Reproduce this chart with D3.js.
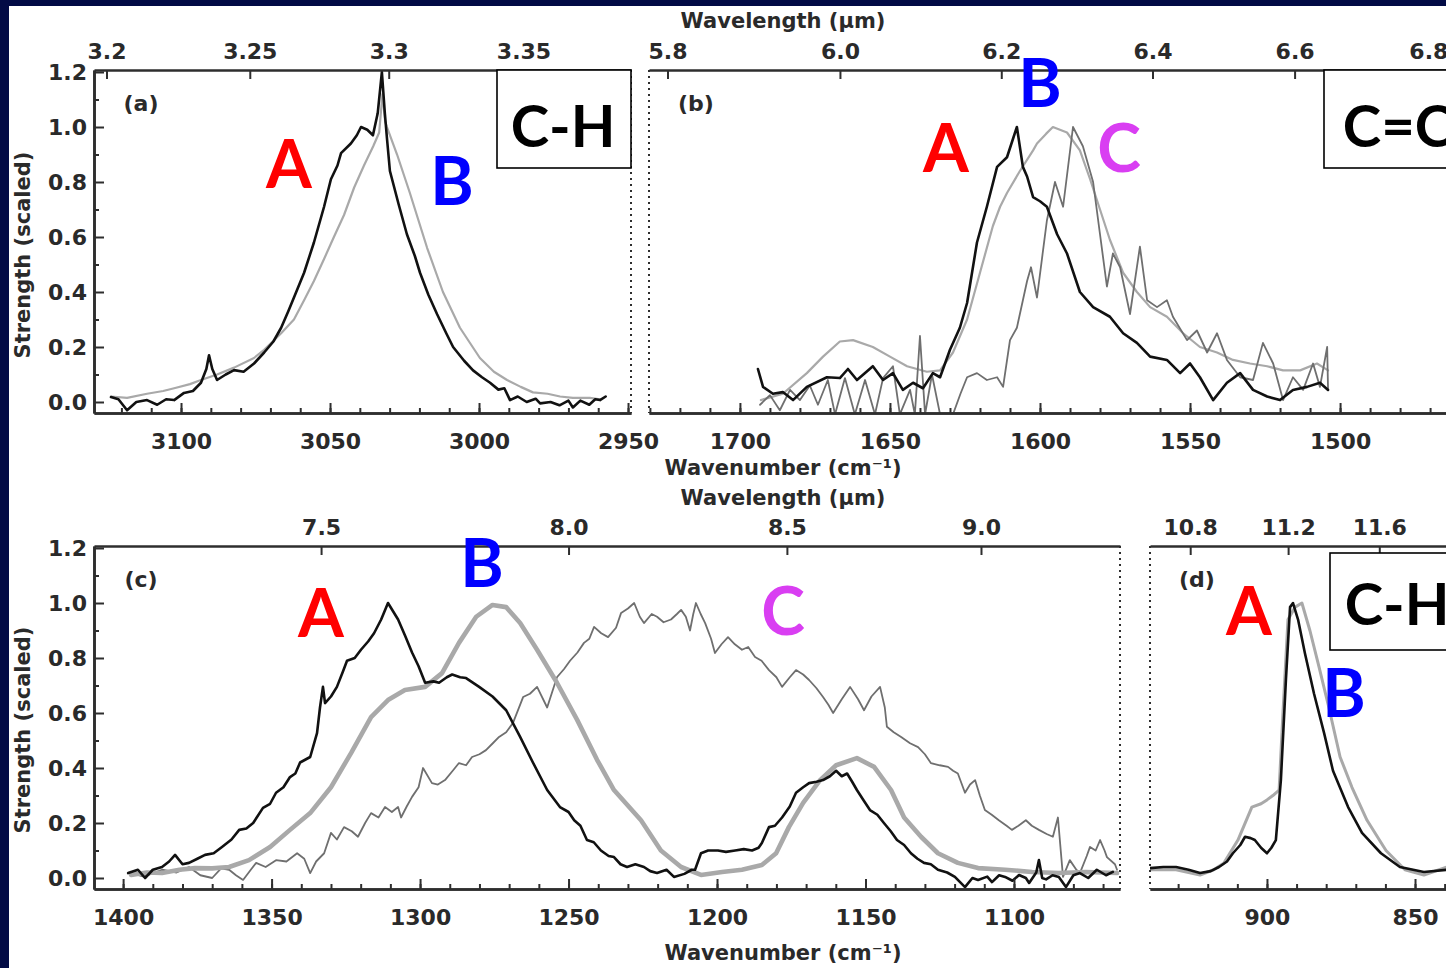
<!DOCTYPE html>
<html>
<head>
<meta charset="utf-8">
<script src="https://cdn.jsdelivr.net/npm/d3@7"></script>
<style>
  html, body { margin: 0; padding: 0; background: #020b45; overflow: hidden; }
  svg { display: block; }
</style>
</head>
<body>
<svg id="chart" width="1446" height="968"></svg>
<script>
// ---------------- DATA (wavenumber cm^-1, scaled strength) ----------------
// Panel (a) 3.3 um C-H stretch
const a_A = [[3123.5,0.018],[3121,0.01],[3118.1,-0.03],[3115,0.0],[3111.4,0.007],[3108,-0.01],[3105,0.01],[3102.3,0.007],[3099,0.033],[3096,0.04],[3093.3,0.07],[3091.5,0.12],[3090.6,0.17],[3089.5,0.12],[3087.9,0.08],[3085,0.1],[3082.2,0.116],[3079,0.11],[3075.5,0.14],[3072.1,0.18],[3069,0.22],[3066.4,0.27],[3064,0.33],[3062.1,0.38],[3058.7,0.47],[3055.4,0.58],[3052,0.71],[3049.7,0.81],[3047.5,0.86],[3046.3,0.905],[3043,0.94],[3041,0.97],[3039.6,1.0],[3037.5,0.99],[3035.6,0.97],[3034,1.05],[3032.6,1.2],[3031.6,1.05],[3030.9,0.96],[3029.9,0.84],[3027,0.72],[3024.2,0.61],[3021.5,0.53],[3019.8,0.47],[3017,0.39],[3014.1,0.32],[3011,0.25],[3008.7,0.2],[3005,0.15],[3002,0.115],[2999,0.09],[2996.3,0.07],[2993.5,0.045],[2991.5,0.05],[2989.6,0.007],[2987,0.02],[2984,0.0],[2981,0.012],[2979.5,-0.005],[2976,0.0],[2973,-0.012],[2970,0.005],[2968.5,-0.02],[2966,0.005],[2963,-0.01],[2961,0.01],[2959.4,0.007],[2957.5,0.02]];
const a_B = [[3123.5,0.02],[3118.1,0.015],[3111.4,0.03],[3106,0.04],[3102.3,0.05],[3097,0.065],[3093.3,0.08],[3087.9,0.1],[3082.2,0.125],[3075.5,0.16],[3072.1,0.19],[3066.4,0.25],[3062.1,0.3],[3058.7,0.37],[3055.4,0.44],[3052,0.52],[3048.7,0.6],[3045.3,0.68],[3041.9,0.78],[3038.6,0.86],[3035.5,0.93],[3033.5,0.98],[3032.4,1.12],[3031.5,1.02],[3030.9,1.0],[3027.5,0.9],[3023.2,0.76],[3017.4,0.56],[3012.1,0.4],[3006.4,0.27],[2999.7,0.16],[2995,0.11],[2990.6,0.08],[2986,0.055],[2981.9,0.035],[2977,0.03],[2972.8,0.02],[2968.5,0.015],[2962.8,0.015],[2959.4,0.01]];

// Panel (b) 6.2 um C=C stretch
const b_A = [[1694,0.12],[1692.3,0.055],[1689,0.03],[1685.7,0.036],[1682.3,0.007],[1677.7,0.055],[1671,0.09],[1666.7,0.087],[1664,0.12],[1661,0.08],[1655.7,0.13],[1652.3,0.08],[1649,0.105],[1645.7,0.044],[1642.3,0.07],[1639,0.05],[1635.7,0.105],[1633.3,0.09],[1630,0.19],[1626.7,0.27],[1624.3,0.36],[1621,0.58],[1617.7,0.71],[1614.3,0.855],[1611,0.89],[1607.7,1.0],[1605.7,0.855],[1604.3,0.82],[1602.3,0.745],[1600,0.73],[1597.7,0.71],[1594.3,0.61],[1591,0.54],[1586.7,0.4],[1582.3,0.345],[1576.7,0.31],[1572.3,0.25],[1567.7,0.215],[1563.3,0.165],[1557.7,0.153],[1553.3,0.105],[1550,0.14],[1546.7,0.09],[1542.3,0.007],[1537.7,0.07],[1533.3,0.105],[1529,0.044],[1524.3,0.02],[1520,0.007],[1515.7,0.044],[1511,0.055],[1506.7,0.07],[1504,0.044]];
const b_B = [[1693,0.007],[1685.7,0.03],[1677.7,0.105],[1672.3,0.165],[1666.7,0.22],[1662.3,0.225],[1655.7,0.2],[1650,0.165],[1644.3,0.13],[1637.7,0.11],[1633.3,0.115],[1629,0.18],[1624.3,0.3],[1620,0.47],[1615.7,0.64],[1613.3,0.71],[1611,0.76],[1606.7,0.84],[1602.3,0.915],[1601,0.94],[1598,0.975],[1595.7,1.0],[1591,0.98],[1586.7,0.915],[1583.3,0.81],[1580,0.7],[1576.7,0.59],[1572.3,0.47],[1567.7,0.4],[1563.3,0.345],[1557.7,0.31],[1552.3,0.25],[1546.7,0.2],[1541,0.18],[1535.7,0.153],[1530,0.14],[1524.3,0.13],[1519,0.115],[1513.3,0.115],[1507.7,0.14],[1504,0.115]];
const b_C = [[1693.3,-0.01],[1690,0.025],[1686.7,-0.03],[1683.3,0.044],[1680,0.007],[1676.7,0.06],[1674,-0.01],[1670.7,0.08],[1668.3,-0.045],[1665,0.087],[1661.7,-0.045],[1658.3,0.08],[1655,-0.045],[1652.3,0.087],[1649,0.13],[1646.7,-0.045],[1643.3,0.044],[1641.7,-0.045],[1640,0.24],[1638.3,-0.045],[1636,0.1],[1633.3,-0.045],[1629,-0.045],[1626.5,0.03],[1624.3,0.09],[1621,0.105],[1617.7,0.08],[1614.3,0.09],[1612.3,0.055],[1610,0.225],[1607.7,0.27],[1605.7,0.37],[1604.3,0.44],[1603,0.49],[1601,0.38],[1597.7,0.66],[1595,0.8],[1592.3,0.71],[1589,1.0],[1585.7,0.93],[1582.3,0.8],[1580,0.61],[1577.7,0.42],[1575.7,0.54],[1573.3,0.49],[1570,0.32],[1566.7,0.565],[1564.3,0.37],[1561,0.345],[1557.7,0.37],[1555.7,0.31],[1551,0.225],[1547.7,0.26],[1544.3,0.18],[1541,0.25],[1537.7,0.153],[1533.3,0.09],[1529,0.08],[1525.7,0.215],[1522.3,0.14],[1519,0.007],[1515.7,0.09],[1512.3,0.044],[1509,0.14],[1506.7,0.055],[1504.3,0.2],[1504,0.044]];

// Panel (c) 7.7 um C-C and 8.6 um C-H
const c_A = [[1398.3,0.018],[1395,0.03],[1392.6,0.0],[1390,0.03],[1386.9,0.04],[1384.5,0.06],[1382.5,0.084],[1380,0.05],[1377.8,0.055],[1375,0.07],[1372.4,0.084],[1369.5,0.09],[1366.7,0.113],[1363.5,0.14],[1360.9,0.175],[1358.5,0.18],[1356.2,0.2],[1352.9,0.255],[1350.5,0.27],[1348.5,0.31],[1346,0.33],[1343.8,0.367],[1342,0.38],[1340.4,0.42],[1337,0.44],[1334.7,0.527],[1333.7,0.62],[1332.7,0.695],[1332,0.636],[1330,0.66],[1328,0.695],[1326,0.75],[1324.6,0.79],[1322,0.8],[1319.9,0.83],[1317.5,0.86],[1315.5,0.89],[1313.1,0.94],[1310.8,1.0],[1307.4,0.94],[1305,0.88],[1302.7,0.82],[1300.5,0.77],[1298.3,0.71],[1295.5,0.715],[1293.6,0.71],[1291,0.73],[1289.2,0.74],[1286.5,0.73],[1284.5,0.727],[1280.1,0.695],[1275.6,0.66],[1271,0.61],[1266.3,0.513],[1262,0.42],[1257.2,0.32],[1252.9,0.258],[1250,0.24],[1248.1,0.21],[1246,0.19],[1243.8,0.138],[1241.5,0.13],[1239.1,0.1],[1236.5,0.08],[1234.7,0.076],[1232.5,0.05],[1230.3,0.04],[1227.5,0.05],[1224.6,0.04],[1222.5,0.025],[1220.2,0.018],[1217,0.03],[1214.5,0.004],[1211,0.015],[1208.5,0.03],[1207.4,0.03],[1205.4,0.09],[1203,0.1],[1199.7,0.1],[1197,0.095],[1193.9,0.1],[1191,0.105],[1188.2,0.1],[1186,0.11],[1184.9,0.127],[1182.5,0.185],[1180.5,0.19],[1178.1,0.22],[1175.5,0.26],[1173.4,0.31],[1171,0.33],[1169,0.345],[1166.5,0.35],[1164.3,0.356],[1162,0.37],[1159.9,0.39],[1158,0.37],[1156.2,0.38],[1154.5,0.35],[1152.9,0.32],[1150.5,0.28],[1148.5,0.247],[1146,0.23],[1143.8,0.2],[1141.5,0.17],[1139.4,0.138],[1137,0.12],[1134.7,0.09],[1132.5,0.07],[1130.3,0.055],[1128,0.05],[1125.6,0.03],[1122.5,0.02],[1119.9,0.004],[1116.5,-0.033],[1114,0.0],[1112.1,-0.007],[1109,0.005],[1107.4,-0.015],[1105,0.01],[1103,0.004],[1100.5,-0.01],[1098.3,0.011],[1096,0.0],[1094.9,-0.018],[1092.5,0.02],[1091.6,0.065],[1090.5,0.0],[1089.2,-0.005],[1087,0.01],[1084.9,0.004],[1082.5,-0.033],[1080,0.01],[1077.8,0.018],[1075,0.0],[1072.1,0.03],[1069,0.01],[1066.7,0.022]];
const c_B = [[1397.3,0.011],[1392,0.02],[1386.9,0.018],[1381,0.03],[1375.8,0.036],[1370,0.035],[1364.3,0.04],[1357.6,0.065],[1350.5,0.113],[1343.8,0.175],[1337,0.236],[1330,0.33],[1323.2,0.455],[1316.5,0.585],[1310.8,0.647],[1305.1,0.684],[1298.3,0.695],[1292.6,0.745],[1286.9,0.855],[1281.1,0.95],[1275.6,0.993],[1271,0.985],[1266.3,0.927],[1260.6,0.83],[1253.9,0.71],[1247.1,0.575],[1240.4,0.43],[1234.7,0.32],[1225.6,0.21],[1218.9,0.1],[1212.1,0.04],[1205.4,0.011],[1198.3,0.022],[1191.6,0.03],[1184.9,0.047],[1180.1,0.09],[1175.8,0.185],[1171,0.273],[1165.3,0.356],[1159.9,0.41],[1152.9,0.436],[1147.1,0.404],[1141.4,0.32],[1137,0.22],[1131.3,0.15],[1125.6,0.09],[1118.9,0.055],[1112.1,0.036],[1103,0.03],[1093.9,0.022],[1084.9,0.018],[1075.8,0.022],[1065.3,0.018]];
const c_C = [[1397.3,0.018],[1393,0.005],[1386.9,0.03],[1382,0.02],[1377.8,0.04],[1374,0.01],[1370,0.0],[1367,0.035],[1364.3,0.03],[1362,0.01],[1359.6,-0.007],[1357,0.03],[1355.2,0.055],[1352,0.04],[1348.5,0.065],[1345,0.06],[1341.4,0.09],[1339,0.07],[1337,0.018],[1335,0.06],[1332.3,0.09],[1330,0.164],[1328,0.14],[1325.6,0.185],[1323,0.17],[1320.9,0.15],[1318.5,0.2],[1316.5,0.236],[1314,0.22],[1311.8,0.258],[1309.5,0.24],[1307.4,0.258],[1306.4,0.22],[1304.5,0.26],[1302.7,0.295],[1300.5,0.33],[1299,0.4],[1296,0.345],[1294,0.34],[1291.6,0.356],[1289,0.39],[1286.9,0.418],[1284.5,0.41],[1282.5,0.44],[1280,0.45],[1277.8,0.465],[1275.5,0.49],[1273.4,0.513],[1271,0.53],[1268.7,0.564],[1265.3,0.658],[1263,0.67],[1260.6,0.695],[1257.2,0.62],[1253.9,0.73],[1251.5,0.76],[1249.5,0.79],[1247,0.82],[1244.8,0.855],[1243,0.87],[1241.4,0.913],[1239,0.89],[1236.7,0.876],[1234,0.91],[1232.3,0.964],[1230,0.98],[1227.9,1.0],[1226,0.95],[1224.6,0.927],[1222,0.96],[1220.2,0.95],[1218,0.93],[1215.5,0.94],[1213.5,0.96],[1212.1,0.975],[1210.5,0.95],[1209.1,0.9],[1208,0.96],[1207.1,1.0],[1205.5,0.96],[1204,0.927],[1202,0.87],[1200.7,0.818],[1198.5,0.85],[1196.3,0.876],[1194,0.85],[1191.6,0.83],[1189.5,0.84],[1187.2,0.804],[1185,0.79],[1182.5,0.756],[1180,0.73],[1178.1,0.695],[1175.5,0.73],[1173.4,0.756],[1171,0.74],[1169,0.72],[1166.5,0.69],[1164.3,0.658],[1162.5,0.63],[1160.9,0.6],[1158,0.65],[1155.2,0.695],[1152.5,0.65],[1150.5,0.61],[1148,0.66],[1145.1,0.695],[1143.5,0.62],[1142.8,0.55],[1140.5,0.53],[1138,0.513],[1135,0.49],[1132.3,0.476],[1130,0.45],[1128,0.418],[1125,0.41],[1122.2,0.404],[1120.5,0.39],[1118.9,0.38],[1116.5,0.31],[1114.8,0.34],[1113.1,0.356],[1111.5,0.3],[1109.8,0.247],[1107.5,0.23],[1105.1,0.21],[1102.5,0.19],[1100.7,0.175],[1098.5,0.19],[1096,0.21],[1094,0.19],[1091.6,0.175],[1089,0.16],[1086.9,0.15],[1085.2,0.22],[1083.5,0.004],[1081.2,0.065],[1079,0.03],[1077.8,0.018],[1075.5,0.08],[1074.4,0.113],[1072.5,0.1],[1071,0.138],[1069.5,0.1],[1068.7,0.076],[1066,0.05],[1065.3,0.03]];

// Panel (d) 11.2 um C-H out-of-plane
const d_A = [[939.5,0.036],[935,0.04],[930.7,0.04],[926.5,0.03],[922.6,0.018],[919,0.025],[916.2,0.04],[913.5,0.06],[911.5,0.09],[909,0.12],[907.4,0.15],[905.5,0.145],[904.1,0.138],[902,0.11],[900,0.09],[898.5,0.11],[897,0.138],[895.3,0.356],[893.6,0.72],[892.2,0.985],[891.2,1.0],[889.5,0.94],[887.2,0.818],[884.1,0.67],[880.7,0.527],[877.7,0.39],[872.6,0.258],[867.9,0.164],[861.5,0.09],[855.1,0.04],[847,0.022],[839.2,0.03]];
const d_B = [[939.5,0.03],[930.7,0.03],[922.6,0.011],[918,0.03],[914.5,0.055],[909.8,0.138],[905.1,0.258],[902,0.27],[900,0.284],[898,0.3],[895.9,0.32],[894.6,0.6],[892.9,0.94],[890.5,0.985],[888.2,1.0],[885.5,0.9],[882.4,0.767],[879.1,0.62],[875.3,0.44],[871.3,0.33],[866.2,0.21],[859.8,0.1],[853.4,0.03],[847,0.011],[839.2,0.04]];

// Tick values
const yTicksMajor = [0, 0.2, 0.4, 0.6, 0.8, 1.0, 1.2];
const yTicksMinor = [0.1, 0.3, 0.5, 0.7, 0.9, 1.1];
const a_wnTicks = [3100, 3050, 3000, 2950];
const b_wnTicks = [1700, 1650, 1600, 1550, 1500];
const c_wnTicks = [1400, 1350, 1300, 1250, 1200, 1150, 1100];
const d_wnTicks = [900, 850];
const a_wlTicks = ["3.2", "3.25", "3.3", "3.35"];
const b_wlTicks = ["5.8", "6.0", "6.2", "6.4", "6.6", "6.8"];
const c_wlTicks = ["7.5", "8.0", "8.5", "9.0"];
const d_wlTicks = ["10.8", "11.2", "11.6"];

// ---------------- LAYOUT / STYLE ----------------
const svg = d3.select("#chart");
const FONT = "DejaVu Sans";
const AX = "#2e2e2e";
const COL = { A: "#111111", B: "#a9a9a9", C: "#6f6f6f" };

svg.append("rect").attr("x", 0).attr("y", 0).attr("width", 1446).attr("height", 968).attr("fill", "#020b45");
svg.append("rect").attr("x", 9).attr("y", 6).attr("width", 1446).attr("height", 968).attr("fill", "#ffffff");

const panels = [
  { id: "a", left: 94, right: 631, top: 70, bottom: 413, wn: [3129.2, 2949.0], wnTicks: a_wnTicks, wlTicks: a_wlTicks,
    leftSolid: true, rightSolid: false, series: [["B", a_B, 2.2], ["A", a_A, 2.6]] },
  { id: "b", left: 649, right: 1500, top: 70, bottom: 413, wn: [1730.3, 1446.7], wnTicks: b_wnTicks, wlTicks: b_wlTicks,
    leftSolid: false, rightSolid: true, series: [["B", b_B, 2.2], ["C", b_C, 1.8], ["A", b_A, 2.6]] },
  { id: "c", left: 94, right: 1120, top: 546, bottom: 889, wn: [1409.8, 1064.3], wnTicks: c_wnTicks, wlTicks: c_wlTicks,
    leftSolid: true, rightSolid: false, series: [["C", c_C, 1.8], ["B", c_B, 4.6], ["A", c_A, 2.6]] },
  { id: "d", left: 1150, right: 1500, top: 546, bottom: 889, wn: [939.5, 821.3], wnTicks: d_wnTicks, wlTicks: d_wlTicks,
    leftSolid: false, rightSolid: true, series: [["B", d_B, 3.0], ["A", d_A, 2.6]] }
];

function minorTicks(dom, step) {
  const lo = Math.ceil(Math.min(...dom) / step) * step;
  const hi = Math.max(...dom);
  const out = [];
  for (let v = lo; v <= hi + 1e-9; v += step) out.push(+v.toFixed(4));
  return out;
}

function styleAxis(g) {
  g.selectAll("path.domain").attr("stroke", AX).attr("stroke-width", 2.6);
  g.selectAll(".tick line").attr("stroke", AX).attr("stroke-width", 2);
  g.selectAll(".tick text").attr("fill", "#2a2a2a").attr("font-family", FONT)
    .attr("font-weight", "bold").attr("font-size", 22);
}

panels.forEach(p => {
  const x = d3.scaleLinear().domain(p.wn).range([p.left, p.right]);
  const y = d3.scaleLinear().domain([-0.04, 1.2073]).range([p.bottom, p.top]);
  const g = svg.append("g");

  const clipId = "clip-" + p.id;
  svg.append("clipPath").attr("id", clipId).append("rect")
    .attr("x", p.left).attr("y", p.top).attr("width", p.right - p.left).attr("height", p.bottom - p.top);

  const line = d3.line().x(d => x(d[0])).y(d => y(d[1]));
  const sg = g.append("g").attr("clip-path", `url(#${clipId})`);
  p.series.forEach(([key, data, w]) => {
    sg.append("path").datum(data).attr("d", line)
      .attr("fill", "none").attr("stroke", COL[key]).attr("stroke-width", w)
      .attr("stroke-linejoin", "round").attr("stroke-linecap", "round");
  });

  const bMinor = g.append("g").attr("transform", `translate(0,${p.bottom})`)
    .call(d3.axisBottom(x).tickValues(minorTicks(p.wn, 10)).tickSize(-5).tickSizeOuter(0).tickFormat(""));
  styleAxis(bMinor);
  const bMajor = g.append("g").attr("transform", `translate(0,${p.bottom})`)
    .call(d3.axisBottom(x).tickValues(p.wnTicks).tickSize(-10).tickSizeOuter(0).tickPadding(20).tickFormat(d3.format("d")));
  styleAxis(bMajor);

  const wlVals = p.wlTicks.map(s => 10000 / (+s));
  const tMajor = g.append("g").attr("transform", `translate(0,${p.top})`)
    .call(d3.axisTop(x).tickValues(wlVals).tickSize(-9).tickSizeOuter(0).tickPadding(11)
      .tickFormat((d, i) => p.wlTicks[i]));
  styleAxis(tMajor);

  if (p.leftSolid) {
    const lMinor = g.append("g").attr("transform", `translate(${p.left},0)`)
      .call(d3.axisLeft(y).tickValues(yTicksMinor).tickSize(-5).tickSizeOuter(0).tickFormat(""));
    styleAxis(lMinor);
    const lMajor = g.append("g").attr("transform", `translate(${p.left},0)`)
      .call(d3.axisLeft(y).tickValues(yTicksMajor).tickSize(-10).tickSizeOuter(0).tickPadding(7).tickFormat(d3.format(".1f")));
    styleAxis(lMajor);
  } else {
    g.append("line").attr("x1", p.left).attr("x2", p.left).attr("y1", p.top).attr("y2", p.bottom)
      .attr("stroke", AX).attr("stroke-width", 2).attr("stroke-dasharray", "2,4");
  }
  if (!p.rightSolid) {
    g.append("line").attr("x1", p.right).attr("x2", p.right).attr("y1", p.top).attr("y2", p.bottom)
      .attr("stroke", AX).attr("stroke-width", 2).attr("stroke-dasharray", "2,4");
  }

  g.append("text").attr("x", p.left + 47).attr("y", p.top + 41)
    .attr("text-anchor", "middle").attr("font-family", FONT).attr("font-size", 22)
    .attr("font-weight", "bold").attr("fill", "#2a2a2a").text(`(${p.id})`);
});

// ---------------- AXIS TITLES ----------------
function title(txt, x, y, rot) {
  const t = svg.append("text").attr("text-anchor", "middle").attr("font-family", FONT)
    .attr("font-weight", "bold").attr("font-size", 21).attr("fill", "#2a2a2a").text(txt);
  if (rot) t.attr("transform", `translate(${x},${y}) rotate(-90)`);
  else t.attr("x", x).attr("y", y);
}
title("Wavelength (\u03bcm)", 783, 28);
title("Wavenumber (cm\u207b\u00b9)", 783, 475);
title("Wavelength (\u03bcm)", 783, 505);
title("Wavenumber (cm\u207b\u00b9)", 783, 960);
title("Strength (scaled)", 30, 255, true);
title("Strength (scaled)", 30, 730, true);

// ---------------- ANNOTATIONS ----------------
const LAB = "Lato";
const annColors = { A: "#ff0000", B: "#0000ff", C: "#d93ef2" };
const annotations = [
  ["A", 289, 188], ["B", 452, 205],
  ["A", 946, 172], ["B", 1040, 107], ["C", 1119, 172],
  ["A", 321, 637], ["B", 482, 587], ["C", 783, 635],
  ["A", 1249, 635], ["B", 1344, 717]
];
annotations.forEach(([k, x, y]) => {
  svg.append("text").attr("x", x).attr("y", y).attr("text-anchor", "middle")
    .attr("font-family", LAB).attr("font-weight", "bold").attr("font-size", 66)
    .attr("fill", annColors[k]).text(k);
});

const boxes = [
  { x: 497, y: 70, w: 134, h: 98, txt: "C-H", tx: 563, ty: 147 },
  { x: 1324, y: 70, w: 140, h: 98, txt: "C=C", tx: 1398, ty: 147 },
  { x: 1330, y: 553, w: 130, h: 97, txt: "C-H", tx: 1397, ty: 625 }
];
boxes.forEach(b => {
  svg.append("rect").attr("x", b.x).attr("y", b.y).attr("width", b.w).attr("height", b.h)
    .attr("fill", "#ffffff").attr("stroke", "#000").attr("stroke-width", 1.6);
  svg.append("text").attr("x", b.tx).attr("y", b.ty).attr("text-anchor", "middle")
    .attr("font-family", LAB).attr("font-weight", "bold").attr("font-size", 58)
    .attr("fill", "#000").text(b.txt);
});
</script>
</body>
</html>
